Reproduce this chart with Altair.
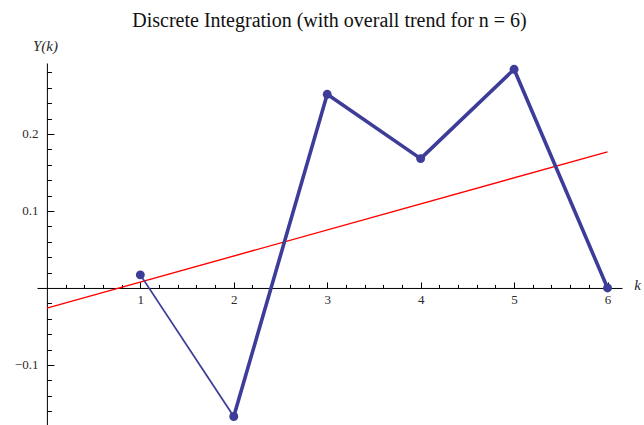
import altair as alt
import pandas as pd

# Discrete integration values Y(k), k = 1..6
k_values = [1, 2, 3, 4, 5, 6]
y_values = [0.017, -0.167, 0.2515, 0.168, 0.284, 0.0]
# stroke width of each joining segment k -> k+1
segment_widths = [1.8, 3.6, 3.6, 3.6, 3.6]

x_tick_values = [0.2, 0.4, 0.6, 0.8, 1, 1.2, 1.4, 1.6, 1.8, 2, 2.2, 2.4, 2.6, 2.8, 3,
                 3.2, 3.4, 3.6, 3.8, 4, 4.2, 4.4, 4.6, 4.8, 5, 5.2, 5.4, 5.6, 5.8, 6]
x_label_values = [1, 2, 3, 4, 5, 6]
y_tick_values = [-0.16, -0.14, -0.12, -0.1, -0.08, -0.06, -0.04, -0.02,
                 0.02, 0.04, 0.06, 0.08, 0.1, 0.12, 0.14, 0.16, 0.18, 0.2,
                 0.22, 0.24, 0.26, 0.28]
y_label_values = [-0.1, 0.1, 0.2]

X_DOMAIN = [-0.106, 6.155]
Y_DOMAIN = [-0.178, 0.2922]
W, H = 585, 362
PAD = {"left": 37, "top": 63, "right": 22, "bottom": 0}

BLUE = "#3d3d99"
RED = "#ff0000"
SERIF = "Liberation Serif"
TEXT = "#2a2a2a"

# pixel position of the origin inside the plot area, so the axes cross at (0, 0)
px0 = (0 - X_DOMAIN[0]) / (X_DOMAIN[1] - X_DOMAIN[0]) * W
py0 = (Y_DOMAIN[1] - 0) / (Y_DOMAIN[1] - Y_DOMAIN[0]) * H

points = pd.DataFrame({"k": k_values, "Y": y_values})
segments = pd.DataFrame({
    "k": k_values[:-1], "Y": y_values[:-1],
    "k2": k_values[1:], "Y2": y_values[1:],
    "w": segment_widths,
})

xs = alt.Scale(domain=X_DOMAIN, nice=False, zero=False)
ys = alt.Scale(domain=Y_DOMAIN, nice=False, zero=False)

x_major = "abs(datum.value - round(datum.value)) < 0.001"
y_major = "abs(datum.value * 10 - round(datum.value * 10)) < 0.001"

# main axes: domain line and labels
x_axis_main = alt.Axis(
    orient="bottom", offset=py0 - H, values=x_label_values, format="d",
    ticks=False, tickSize=0, grid=False, domain=True, domainColor="black", domainWidth=1,
    labelFont=SERIF, labelFontSize=13, labelColor=TEXT, labelPadding=6,
    title="k", titleFont=SERIF, titleFontStyle="italic", titleFontWeight="normal",
    titleFontSize=15, titleColor=TEXT, titleX=W + 15, titleY=-3,
    titleAlign="center", titleBaseline="middle",
)
y_axis_main = alt.Axis(
    orient="left", offset=-px0, values=y_label_values,
    labelExpr="datum.value < 0 ? '\u2212' + format(-datum.value, '.1f') : format(datum.value, '.1f')",
    ticks=False, tickSize=0, grid=False, domain=True, domainColor="black", domainWidth=1,
    labelFont=SERIF, labelFontSize=13, labelColor=TEXT, labelPadding=9,
    title="Y(k)", titleFont=SERIF, titleFontStyle="italic", titleFontWeight="normal",
    titleFontSize=15, titleColor=TEXT, titleAngle=0, titleX=-2, titleY=-18,
    titleAlign="center", titleBaseline="middle",
)
# tick-only axes on the opposite side, so ticks point into the plot
x_axis_ticks = alt.Axis(
    orient="top", offset=-py0, values=x_tick_values, labels=False, domain=False,
    grid=False, ticks=True, tickColor="black", tickWidth=1,
    tickSize={"condition": {"test": x_major, "value": 6}, "value": 3.5},
    title=None,
)
y_axis_ticks = alt.Axis(
    orient="right", offset=px0 - W, values=y_tick_values, labels=False, domain=False,
    grid=False, ticks=True, tickColor="black", tickWidth=1,
    tickSize={"condition": {"test": y_major, "value": 7}, "value": 4.5},
    title=None,
)

lines = alt.Chart(segments).mark_rule(color=BLUE, strokeCap="round").encode(
    x=alt.X("k:Q", scale=xs, axis=x_axis_main),
    y=alt.Y("Y:Q", scale=ys, axis=y_axis_main),
    x2="k2:Q",
    y2="Y2:Q",
    strokeWidth=alt.StrokeWidth("w:Q", scale=None, legend=None),
)

dots = alt.Chart(points).mark_circle(color=BLUE, size=80, opacity=1).encode(
    x=alt.X("k:Q", scale=xs, axis=x_axis_ticks),
    y=alt.Y("Y:Q", scale=ys, axis=y_axis_ticks),
)

# least-squares trend over the six values
trend = alt.Chart(points).transform_regression(
    "k", "Y", extent=[0, 6]
).mark_line(color=RED, strokeWidth=1.4).encode(
    x=alt.X("k:Q", scale=xs, axis=None),
    y=alt.Y("Y:Q", scale=ys, axis=None),
)

chart = alt.layer(trend, lines, dots).resolve_axis(
    x="independent", y="independent"
).properties(
    width=W, height=H,
    padding=PAD,
    autosize=alt.AutoSizeParams(type="none"),
    background="white",
    title=alt.TitleParams(
        "Discrete Integration (with overall trend for n = 6)",
        font=SERIF, fontSize=20, fontWeight="normal", color="#111",
        anchor="middle", offset=7,
    ),
).configure_view(stroke=None)

chart.save("out.html", embed_options={"renderer": "svg", "actions": False})
